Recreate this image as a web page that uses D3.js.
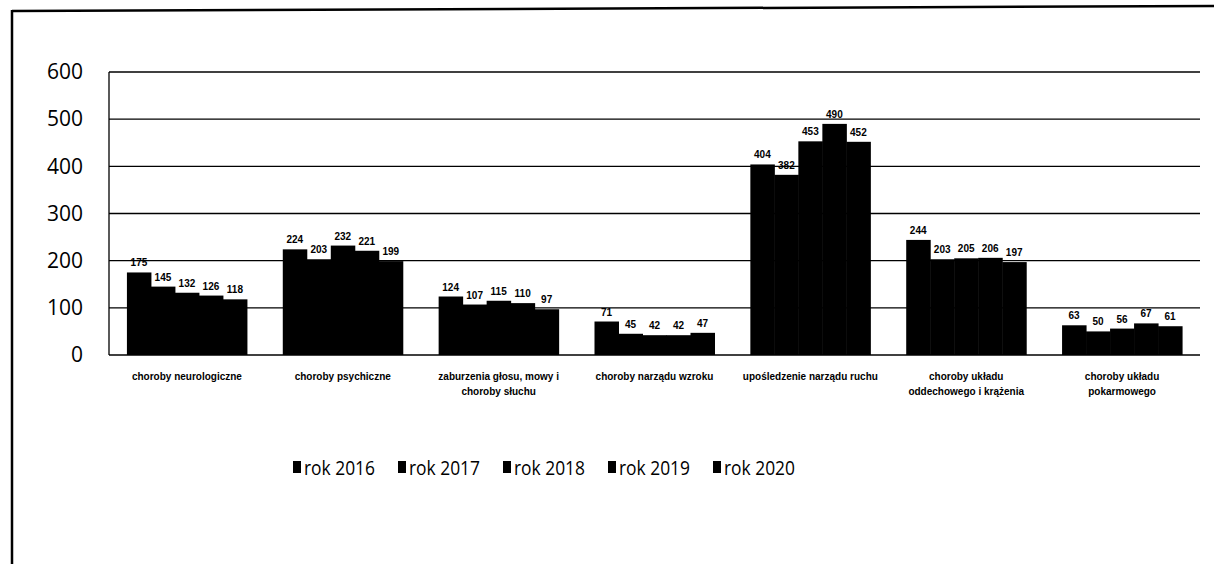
<!DOCTYPE html>
<html><head><meta charset="utf-8">
<script src="https://cdn.jsdelivr.net/npm/d3@7"></script>
<style>html,body{margin:0;padding:0;background:#fff;}svg{display:block;}</style>
</head><body>
<svg id="c" width="1214" height="564"></svg>
<script>
const categories = [
  ["choroby neurologiczne"],
  ["choroby psychiczne"],
  ["zaburzenia głosu, mowy i", "choroby słuchu"],
  ["choroby narządu wzroku"],
  ["upośledzenie narządu ruchu"],
  ["choroby układu", "oddechowego i krążenia"],
  ["choroby układu", "pokarmowego"]
];
const seriesNames = ["rok 2016", "rok 2017", "rok 2018", "rok 2019", "rok 2020"];
const rok2016 = [175, 224, 124, 71, 404, 244, 63];
const rok2017 = [145, 203, 107, 45, 382, 203, 50];
const rok2018 = [132, 232, 115, 42, 453, 205, 56];
const rok2019 = [126, 221, 110, 42, 490, 206, 67];
const rok2020 = [118, 199, 97, 47, 452, 197, 61];
const yTicks = [0, 100, 200, 300, 400, 500, 600];

const series = [rok2016, rok2017, rok2018, rok2019, rok2020];
const svg = d3.select("#c");
const L = 109, R = 1200, T = 72, B = 355;

// frame
svg.append("line").attr("x1", 12).attr("y1", 11).attr("x2", 1214).attr("y2", 6).attr("stroke", "#000").attr("stroke-width", 2.5);
svg.append("line").attr("x1", 12).attr("y1", 10).attr("x2", 12).attr("y2", 564).attr("stroke", "#000").attr("stroke-width", 2.5);

const y = d3.scaleLinear().domain([0, 600]).range([B, T]);
const idx = d3.range(categories.length);
const x0 = d3.scaleBand().domain(idx).range([L, R]).paddingInner(0.23).paddingOuter(0.115);
const x1 = d3.scaleBand().domain(d3.range(series.length)).range([0, x0.bandwidth()]);

// gridlines
svg.append("g").selectAll("line").data(yTicks).join("line")
  .attr("x1", L).attr("x2", R).attr("y1", d => y(d)).attr("y2", d => y(d))
  .attr("stroke", "#000").attr("stroke-width", 1.3);
svg.append("line").attr("x1", L).attr("x2", L).attr("y1", T).attr("y2", B).attr("stroke", "#000").attr("stroke-width", 1.3);

// y labels
const yAxis = d3.axisLeft(y).tickValues(yTicks).tickSize(0).tickPadding(26);
const ga = svg.append("g").attr("transform", `translate(${L},0)`).call(yAxis);
ga.select(".domain").remove();
ga.selectAll("text").attr("font-family", "'Open Sans', sans-serif").attr("font-size", 21).attr("fill", "#000");

// bars
const groups = svg.append("g").selectAll("g").data(idx).join("g")
  .attr("transform", i => `translate(${x0(i)},0)`);
groups.selectAll("rect").data(i => series.map((s, k) => ({k, v: s[i]}))).join("rect")
  .attr("x", d => x1(d.k)).attr("width", x1.bandwidth() + 0.5)
  .attr("y", d => y(d.v)).attr("height", d => B - y(d.v)).attr("fill", "#000");
groups.selectAll("text.v").data(i => series.map((s, k) => ({k, v: s[i]}))).join("text")
  .attr("class", "v")
  .attr("x", d => x1(d.k) + x1.bandwidth() / 2).attr("y", d => y(d.v) - 6)
  .attr("text-anchor", "middle").attr("font-family", "'Liberation Sans Narrow', 'Liberation Sans', sans-serif")
  .attr("font-weight", "bold").attr("font-size", 10).attr("fill", "#000").text(d => d.v);

// category labels
const cl = svg.append("g").selectAll("text").data(idx).join("text")
  .attr("x", i => x0(i) + x0.bandwidth() / 2).attr("y", 380)
  .attr("text-anchor", "middle").attr("font-family", "'Liberation Sans Narrow', 'Liberation Sans', sans-serif")
  .attr("font-weight", "bold").attr("font-size", 10).attr("fill", "#000");
cl.selectAll("tspan").data(i => categories[i]).join("tspan")
  .attr("x", function() { return d3.select(this.parentNode).attr("x"); })
  .attr("dy", (d, j) => j === 0 ? 0 : 15).text(d => d);

// legend
const lx = d3.scaleLinear().domain([0, 4]).range([293, 713]);
const lg = svg.append("g").selectAll("g").data(seriesNames).join("g")
  .attr("transform", (d, i) => `translate(${lx(i)},0)`);
lg.append("rect").attr("x", 0).attr("y", 461).attr("width", 8).attr("height", 12).attr("fill", "#000");
lg.append("text").attr("x", 11).attr("y", 475).attr("font-family", "'Open Sans', sans-serif")
  .attr("font-size", 20).attr("textLength", 71).attr("lengthAdjust", "spacingAndGlyphs")
  .attr("fill", "#000").text(d => d);
</script>
</body></html>
